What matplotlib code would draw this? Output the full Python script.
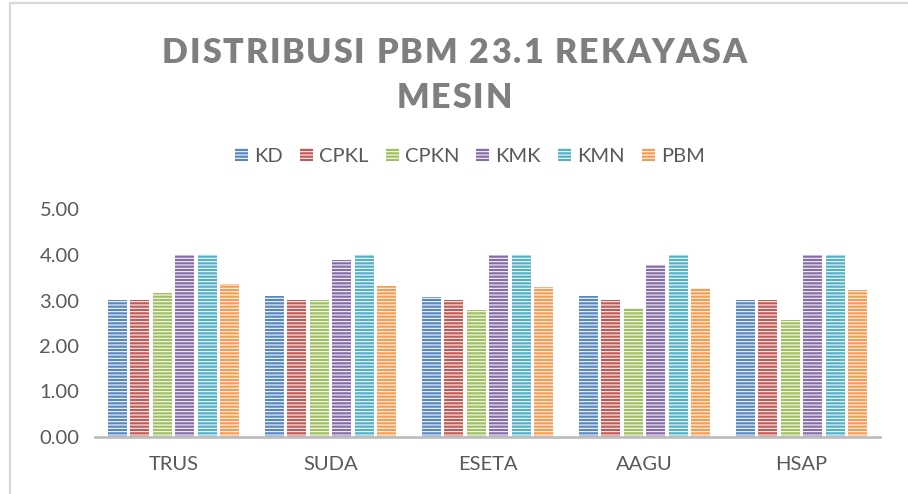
import numpy as np
import matplotlib.pyplot as plt
from matplotlib.patches import Rectangle

# ------------------------------------------------------------
# data
# ------------------------------------------------------------
categories = ["TRUS", "SUDA", "ESETA", "AAGU", "HSAP"]
series = ["KD", "CPKL", "CPKN", "KMK", "KMN", "PBM"]

kd = [3.00, 3.10, 3.07, 3.10, 3.00]
cpkl = [3.00, 3.00, 3.00, 3.00, 3.00]
cpkn = [3.16, 3.02, 2.79, 2.83, 2.57]
kmk = [4.00, 3.89, 4.00, 3.77, 4.00]
kmn = [4.00, 4.00, 4.00, 4.00, 4.00]
pbm = [3.36, 3.32, 3.29, 3.27, 3.22]

values = [kd, cpkl, cpkn, kmk, kmn, pbm]
colors = ["#4F81BD", "#C0504D", "#9BBB59", "#8064A2", "#4BACC6", "#F79646"]

title_lines = ["DISTRIBUSI PBM 23.1 REKAYASA", "MESIN"]

# ------------------------------------------------------------
# figure
# ------------------------------------------------------------
plt.rcParams['font.family'] = ['Lato', 'DejaVu Sans']
plt.rcParams['hatch.linewidth'] = 0.8

W, H = 908, 494
fig = plt.figure(figsize=(W / 100, H / 100), dpi=100)
fig.patch.set_facecolor('white')

# outer chart border (only top/left visible in the crop)
fig.add_artist(Rectangle((10 / W, -0.05), 1.1, (H - 3) / H + 0.05,
                         transform=fig.transFigure, fill=False,
                         edgecolor='#D9D9D9', lw=1.6))

ax = fig.add_axes([95 / W, (H - 437) / H, (880 - 95) / W, (437 - 209.5) / H])

x = np.arange(len(categories))
slot = 0.143
bw = 0.122
for i, (name, vals, c) in enumerate(zip(series, values, colors)):
    pos = x + (i - 2.5) * slot
    ax.bar(pos, vals, bw, color=c, edgecolor='white', lw=0, hatch='-----',
           label=name, zorder=2, alpha=0.95)

ax.set_ylim(0, 5)
ax.set_xlim(-0.5, len(categories) - 0.5)
ax.set_yticks(np.arange(0, 5.01, 1))
ax.set_yticklabels([f"{v:.2f}" for v in np.arange(0, 5.01, 1)])
ax.set_xticks(x)
ax.set_xticklabels(categories)
ax.tick_params(axis='both', length=0, labelsize=14.5, colors='#595959')
ax.tick_params(axis='y', pad=40)
ax.tick_params(axis='x', pad=14)
for lab in ax.get_yticklabels():
    lab.set_horizontalalignment('left')

for s in ['top', 'right', 'left']:
    ax.spines[s].set_visible(False)
ax.spines['bottom'].set_color('#BFBFBF')
ax.spines['bottom'].set_linewidth(2)
ax.spines['bottom'].set_zorder(3)

# legend
leg = fig.legend(loc='center', bbox_to_anchor=(470 / W, (H - 156) / H), ncol=6,
                 frameon=False, fontsize=14.5, handlelength=0.65,
                 handleheight=0.65, handletextpad=0.3, columnspacing=0.85)
for t in leg.get_texts():
    t.set_color('#595959')

# title with letter spacing, drawn character by character
renderer = fig.canvas.get_renderer()


def spaced_text(s, ycen, spacing, size):
    widths = []
    for ch in s:
        t = fig.text(0, 0, ch if ch != ' ' else 'a', fontsize=size,
                     fontweight='bold')
        bb = t.get_window_extent(renderer)
        w = bb.width
        if ch == ' ':
            t2 = fig.text(0, 0, 'a a', fontsize=size, fontweight='bold')
            w = t2.get_window_extent(renderer).width - 2 * bb.width
            t2.remove()
        t.remove()
        widths.append(w)
    total = sum(widths) + spacing * (len(s) - 1)
    xpos = W / 2 - total / 2
    for ch, w in zip(s, widths):
        if ch != ' ':
            fig.text(xpos / W, ycen / H, ch, fontsize=size, fontweight='heavy',
                     color='#7F7F7F', ha='left', va='center_baseline')
        xpos += w + spacing


spaced_text(title_lines[0], H - 50, 2.1, 24.5)
spaced_text(title_lines[1], H - 95, 2.1, 24.5)

plt.savefig('out.png', dpi=100)
